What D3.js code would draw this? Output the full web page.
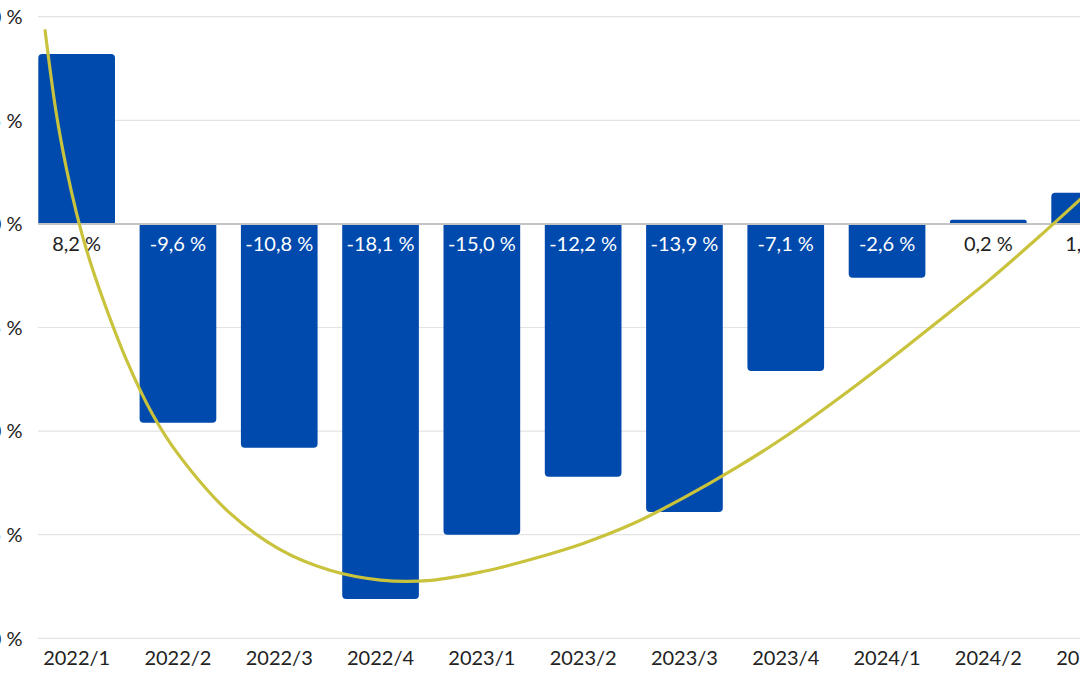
<!DOCTYPE html>
<html><head><meta charset="utf-8">
<script src="https://cdn.jsdelivr.net/npm/d3@7"></script>
<style>
html,body{margin:0;padding:0;background:#fff;overflow:hidden;}
svg{display:block;font-family:Lato, "Open Sans", sans-serif;}
</style></head>
<body>
<svg id="chart" width="1080" height="675"></svg>
<script>
const categories = ["2022/1","2022/2","2022/3","2022/4","2023/1","2023/2","2023/3","2023/4","2024/1","2024/2","2024/3"];
const values = [8.2, -9.6, -10.8, -18.1, -15.0, -12.2, -13.9, -7.1, -2.6, 0.2, 1.5];
const valueLabels = ["8,2 %","-9,6 %","-10,8 %","-18,1 %","-15,0 %","-12,2 %","-13,9 %","-7,1 %","-2,6 %","0,2 %","1,5 %"];
const yTicks = [-20, -15, -10, -5, 0, 5, 10];
const yTickLabels = ["-20 %","-15 %","-10 %","-5 %","0 %","5 %","10 %"];
// trend line: position in category steps from first category, value in %
const trendPos = [-0.313, -0.2, -0.1, 0, 0.1, 0.25, 0.5, 0.75, 1, 1.5, 2, 2.5, 3, 3.5, 4, 4.5, 5, 5.5, 6, 6.5, 7, 7.5, 8, 8.5, 9, 9.5, 10];
const trendVal = [9.39, 5.3, 2.65, 0.5, -1.3, -3.5, -6.66, -9.2, -11.1, -13.9, -15.7, -16.72, -17.19, -17.2, -16.79, -16.17, -15.42, -14.45, -13.2, -11.8, -10.25, -8.5, -6.65, -4.72, -2.75, -0.62, 1.6];

const svg = d3.select("#chart");
const x = d3.scaleBand().domain(categories).range([26, 1140.3]).paddingInner(0.243).paddingOuter(0.1215);
const y = d3.scaleLinear().domain([-20, 10]).range([638.3, 16.7]);
const step = x.step();
const bw = x.bandwidth();

// gridlines
svg.append("g").selectAll("line").data(yTicks.filter(d => d !== 0)).join("line")
  .attr("x1", 38).attr("x2", 1080)
  .attr("y1", d => y(d)).attr("y2", d => y(d))
  .attr("stroke", "#e3e3e3").attr("stroke-width", 1.2);

// y labels (partially cut at left edge, as in the source crop)
svg.append("g").selectAll("text").data(yTicks).join("text")
  .attr("x", 22.5).attr("y", d => y(d))
  .attr("dy", "0.36em")
  .attr("text-anchor", "end")
  .attr("font-size", 20).attr("fill", "#222")
  .text((d, i) => yTickLabels[i]);

// bars with rounded far end
const r = 4;
function barPath(d, i) {
  const x0 = x(categories[i]), x1 = x0 + bw;
  const y0 = y(0), y1 = y(d);
  const h = Math.abs(y1 - y0);
  const rr = Math.min(r, h / 2, bw / 2);
  if (d >= 0) {
    return `M${x0},${y0}V${y1 + rr}Q${x0},${y1} ${x0 + rr},${y1}H${x1 - rr}Q${x1},${y1} ${x1},${y1 + rr}V${y0}Z`;
  } else {
    return `M${x0},${y0}V${y1 - rr}Q${x0},${y1} ${x0 + rr},${y1}H${x1 - rr}Q${x1},${y1} ${x1},${y1 - rr}V${y0}Z`;
  }
}
svg.append("g").selectAll("path").data(values).join("path")
  .attr("d", barPath)
  .attr("fill", "#004aad");

// zero line
svg.append("line").attr("x1", 38).attr("x2", 1080)
  .attr("y1", y(0)).attr("y2", y(0))
  .attr("stroke", "#c4c4c4").attr("stroke-width", 2);

// value labels
svg.append("g").selectAll("text").data(values).join("text")
  .attr("x", (d, i) => x(categories[i]) + bw / 2)
  .attr("y", y(0) + 27)
  .attr("text-anchor", "middle")
  .attr("font-size", 20)
  .attr("fill", d => d < 0 ? "#ffffff" : "#222")
  .text((d, i) => valueLabels[i]);

// x axis labels
svg.append("g").selectAll("text").data(categories).join("text")
  .attr("x", d => x(d) + bw / 2)
  .attr("y", 665)
  .attr("text-anchor", "middle")
  .attr("font-size", 20)
  .attr("fill", "#222")
  .text(d => d);

// trend line
const c0 = x(categories[0]) + bw / 2;
const trendData = trendPos.map((t, i) => [c0 + t * step, y(trendVal[i])]);
svg.append("path").datum(trendData)
  .attr("d", d3.line().curve(d3.curveCatmullRom.alpha(0.5)))
  .attr("fill", "none")
  .attr("stroke", "#c8c23c")
  .attr("stroke-width", 3.2);
</script>
</body></html>
